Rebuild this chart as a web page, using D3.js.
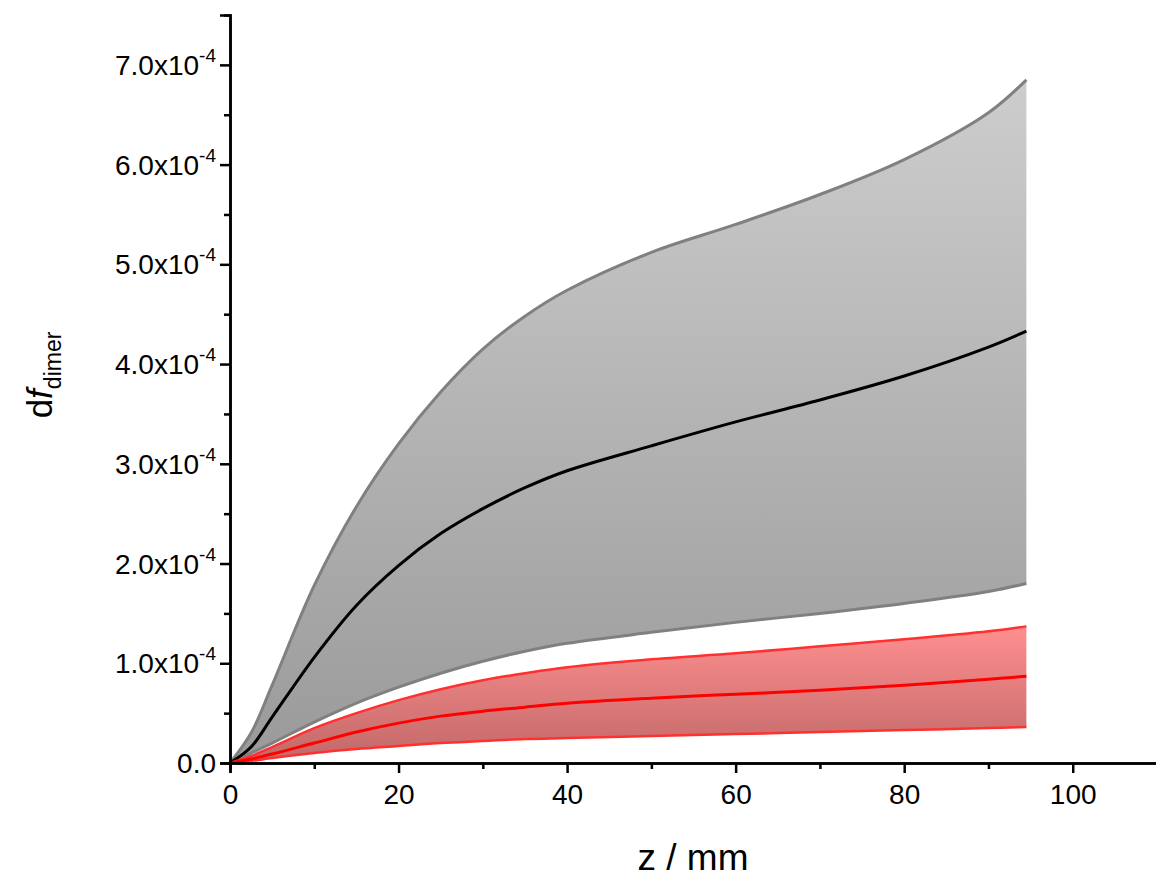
<!DOCTYPE html><html><head><meta charset="utf-8">
<script src="https://cdn.jsdelivr.net/npm/d3@7"></script>
<style>body{margin:0;background:#fff}text{font-family:"Liberation Sans",Arial,sans-serif}</style></head><body>
<svg id="c" width="1156" height="877"></svg>
<script>
const z =        [0, 2.5, 5, 10, 15, 20, 25, 30, 35, 40, 50, 60, 70, 80, 90, 94.5];
const grayUp =   [0, 0.3, 0.78, 1.78, 2.57, 3.2, 3.72, 4.15, 4.48, 4.74, 5.12, 5.4, 5.7, 6.05, 6.52, 6.85];
const grayMean = [0, 0.16, 0.46, 1.06, 1.58, 1.98, 2.3, 2.55, 2.76, 2.93, 3.18, 3.42, 3.64, 3.88, 4.17, 4.33];
const grayLow =  [0, 0.1, 0.2, 0.41, 0.6, 0.76, 0.9, 1.02, 1.12, 1.2, 1.31, 1.41, 1.5, 1.6, 1.72, 1.8];
const redUp =    [0, 0.07, 0.16, 0.35, 0.5, 0.63, 0.74, 0.83, 0.9, 0.96, 1.04, 1.1, 1.17, 1.24, 1.32, 1.37];
const redMean =  [0, 0.04, 0.09, 0.2, 0.31, 0.4, 0.47, 0.52, 0.56, 0.6, 0.65, 0.69, 0.73, 0.78, 0.84, 0.87];
const redLow =   [0, 0.02, 0.05, 0.1, 0.14, 0.17, 0.2, 0.22, 0.24, 0.25, 0.27, 0.29, 0.31, 0.33, 0.35, 0.36];
const yTicks = [0,1,2,3,4,5,6,7];
const xTicks = [0,20,40,60,80,100];

const svg = d3.select("#c");
const x = d3.scaleLinear().domain([0,110]).range([230,1157]);
const y = d3.scaleLinear().domain([0,7.5]).range([763,15]);
const defs = svg.append("defs");
function grad(id, c1, c2){const g=defs.append("linearGradient").attr("id",id).attr("x1",0).attr("x2",0).attr("y1",0).attr("y2",1);
 g.append("stop").attr("offset","0%").attr("stop-color",c1);g.append("stop").attr("offset","100%").attr("stop-color",c2);}
grad("gg","#cdcdcd","#9a9a9a");
grad("rg","#ff8f8f","#c06868");
const curve=d3.curveCatmullRom.alpha(0.5);
function band(up,low,fill){svg.append("path").attr("d",d3.area().x((d,i)=>x(z[i])).y0((d,i)=>y(low[i])).y1(d=>y(d)).curve(curve)(up)).attr("fill",fill);}
function line(v,c,w){svg.append("path").attr("d",d3.line().x((d,i)=>x(z[i])).y(d=>y(d)).curve(curve)(v)).attr("fill","none").attr("stroke",c).attr("stroke-width",w);}
band(grayUp,grayLow,"url(#gg)");
band(redUp,redLow,"url(#rg)");
line(grayUp,"#808080",3);line(grayLow,"#808080",3);line(grayMean,"#000",3);
line(redUp,"#ff3030",2.5);line(redLow,"#ff3030",2.5);line(redMean,"#ff0000",3);

const ax=svg.append("g").attr("transform","translate(0,763)").call(d3.axisBottom(x).tickValues(xTicks).tickSize(10).tickFormat(d3.format("d")));
svg.append("g").attr("transform","translate(0,763)").call(d3.axisBottom(x).tickValues(d3.range(10,110,20)).tickSize(6).tickFormat(""));
svg.append("g").attr("transform","translate(230,0)").call(d3.axisLeft(y).tickValues(yTicks).tickSize(10).tickFormat(""));
svg.append("g").attr("transform","translate(230,0)").call(d3.axisLeft(y).tickValues(d3.range(0.5,7.5,1)).tickSize(6).tickFormat(""));
svg.selectAll(".domain,.tick line").attr("stroke","#000").attr("stroke-width",2.5);
ax.selectAll("text").style("font-size","28px").attr("y",16).attr("dy","0.9em").attr("fill","#000");
yTicks.forEach(t=>{
 const tx=svg.append("text").attr("x",216).attr("y",y(t)+10).attr("text-anchor","end").style("font-size","28px");
 if(t===0){tx.text("0.0");}else{tx.append("tspan").text(t.toFixed(1)+"x10");tx.append("tspan").style("font-size","19px").attr("dy",-13).text("-4");}
});
svg.append("text").attr("x",693).attr("y",870).attr("text-anchor","middle").style("font-size","37px").text("z / mm");
const yl=svg.append("text").attr("transform","translate(52,375) rotate(-90)").attr("text-anchor","middle").style("font-size","35px");
yl.append("tspan").text("d");yl.append("tspan").attr("font-style","italic").text("f");yl.append("tspan").style("font-size","23px").attr("dy",9).text("dimer");
</script></body></html>
